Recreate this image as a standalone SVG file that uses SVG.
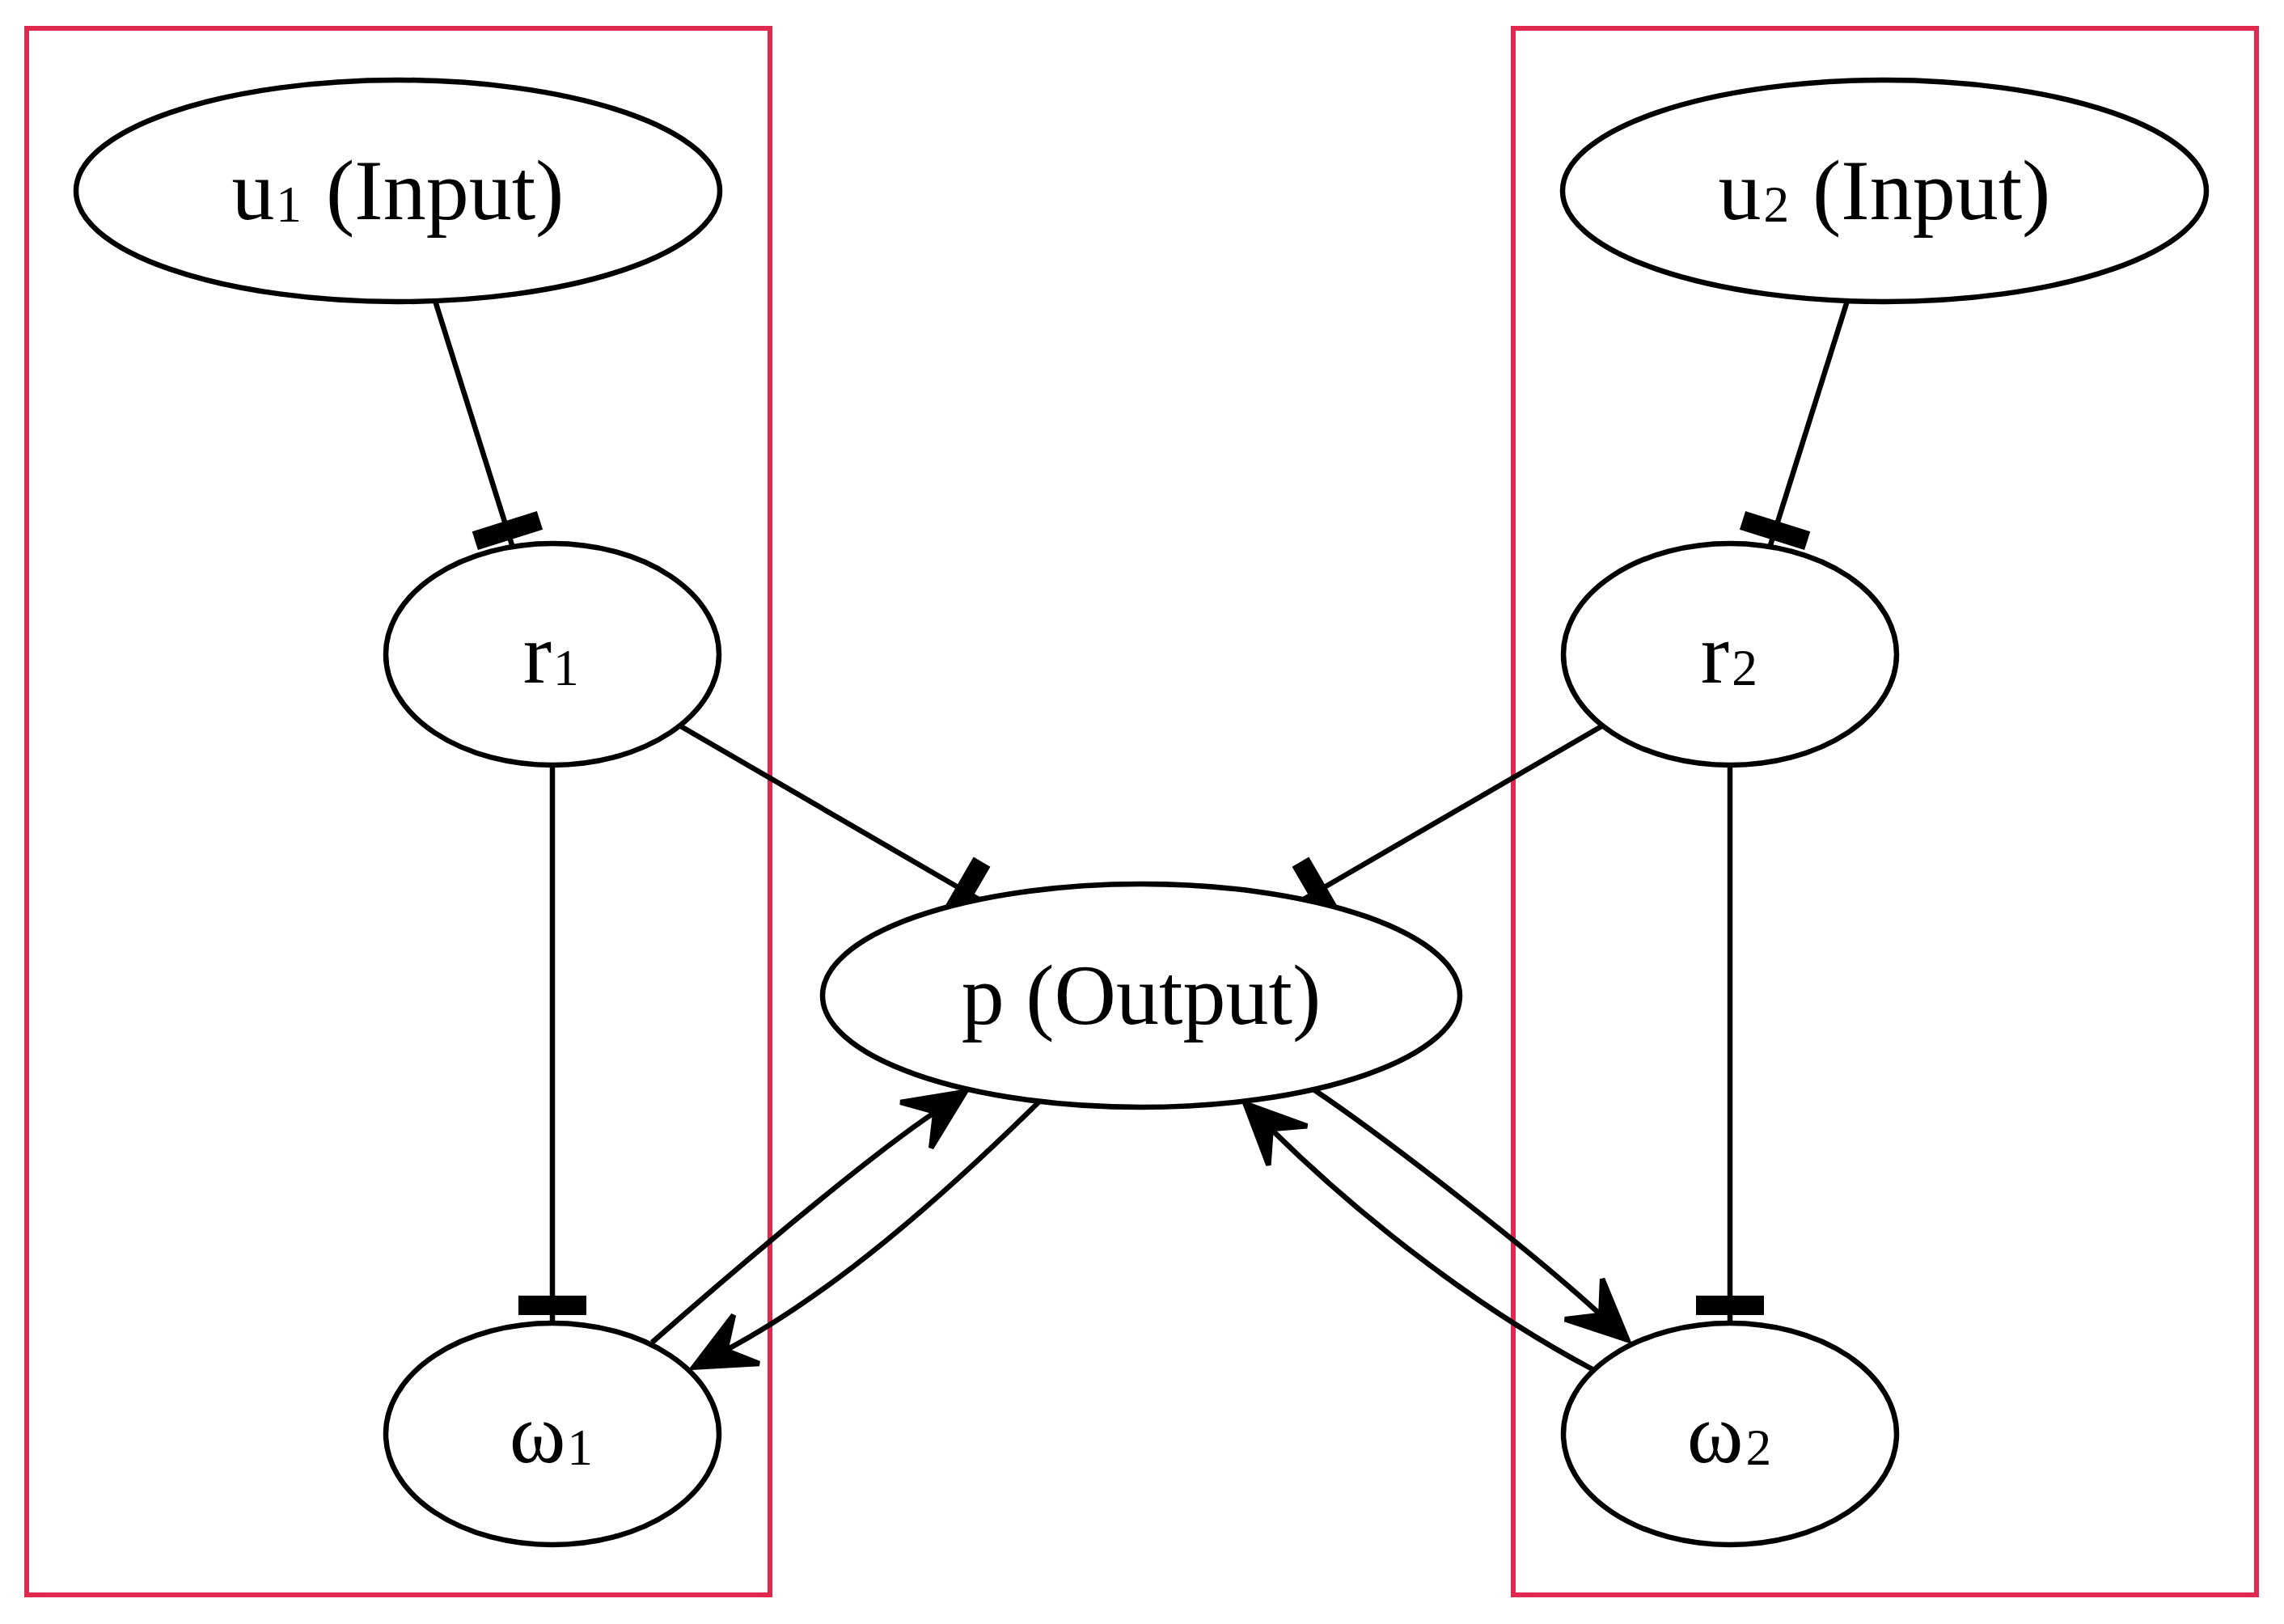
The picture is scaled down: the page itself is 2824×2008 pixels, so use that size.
<svg xmlns="http://www.w3.org/2000/svg" width="2824" height="2008" viewBox="0 0 2824 2008">
  <style>
    .box { fill: none; stroke: #E0294E; stroke-width: 6; }
    .node ellipse { fill: #ffffff; stroke: #000000; stroke-width: 6.5; }
    .node text { font-family: "Liberation Serif", "DejaVu Serif", "Times New Roman", serif; font-size: 106px; fill: #000000; text-anchor: middle; }
    .edge { fill: none; stroke: #000000; stroke-width: 6.5; }
  </style>
  <defs>
    <marker id="tee" markerUnits="userSpaceOnUse" viewBox="-40 -45 50 90" markerWidth="50" markerHeight="90" refX="0" refY="0" orient="auto" overflow="visible">
      <rect x="-34" y="-42" width="24" height="84" fill="#000000"/>
    </marker>
    <marker id="vee" markerUnits="userSpaceOnUse" viewBox="-80 -40 90 80" markerWidth="90" markerHeight="80" refX="-45" refY="0" orient="auto" overflow="visible">
      <polygon points="0,0 -74,34 -45,0 -74,-34" fill="#000000" stroke="#000000" stroke-width="6.5" stroke-linejoin="miter"/>
    </marker>
  </defs>
  <rect width="2824" height="2008" fill="#ffffff"/>

  <g id="clusters">
    <rect id="cluster_left" class="box" x="33" y="35" width="919" height="1937"/>
    <rect id="cluster_right" class="box" x="1871" y="35" width="919" height="1937"/>
  </g>

  <g id="connectors">
    <path class="edge" d="M538,372 L634,677" marker-end="url(#tee)"/>
    <path class="edge" d="M2284,372 L2188,677" marker-end="url(#tee)"/>
    <path class="edge" d="M840,897 L1212,1113" marker-end="url(#tee)"/>
    <path class="edge" d="M1982,897 L1610,1113" marker-end="url(#tee)"/>
    <path class="edge" d="M683,946 L683,1636" marker-end="url(#tee)"/>
    <path class="edge" d="M2139,946 L2139,1636" marker-end="url(#tee)"/>
    <path class="edge" d="M806,1660 C896,1581 1065,1436.3 1156.4,1374.9" marker-end="url(#vee)"/>
    <path class="edge" d="M1286,1361 C1165,1480.3 1029.7,1599.4 897.2,1669.6" marker-end="url(#vee)"/>
    <path class="edge" d="M1624,1347 C1715.4,1408.4 1898.7,1551.2 1979.3,1626" marker-end="url(#vee)"/>
    <path class="edge" d="M1969,1693 C1836.5,1622.8 1692.6,1515.4 1571.6,1396.1" marker-end="url(#vee)"/>
  </g>

  <g id="u1" class="node">
    <ellipse cx="492" cy="236" rx="398" ry="137"/>
    <text x="492" y="271">u<tspan dy="-18">₁</tspan><tspan dy="18"> (Input)</tspan></text>
  </g>
  <g id="u2" class="node">
    <ellipse cx="2330" cy="236" rx="398" ry="137"/>
    <text x="2330" y="271">u<tspan dy="-18">₂</tspan><tspan dy="18"> (Input)</tspan></text>
  </g>
  <g id="r1" class="node">
    <ellipse cx="683" cy="809" rx="206" ry="137"/>
    <text x="683" y="844">r<tspan dy="-18">₁</tspan></text>
  </g>
  <g id="r2" class="node">
    <ellipse cx="2139" cy="809" rx="206" ry="137"/>
    <text x="2139" y="844">r<tspan dy="-18">₂</tspan></text>
  </g>
  <g id="p" class="node">
    <ellipse cx="1411" cy="1231" rx="394" ry="138"/>
    <text x="1411" y="1266">p (Output)</text>
  </g>
  <g id="w1" class="node">
    <ellipse cx="683" cy="1773" rx="206" ry="137"/>
    <text x="683" y="1808">ω<tspan dy="-18">₁</tspan></text>
  </g>
  <g id="w2" class="node">
    <ellipse cx="2139" cy="1773" rx="206" ry="137"/>
    <text x="2139" y="1808">ω<tspan dy="-18">₂</tspan></text>
  </g>
</svg>
